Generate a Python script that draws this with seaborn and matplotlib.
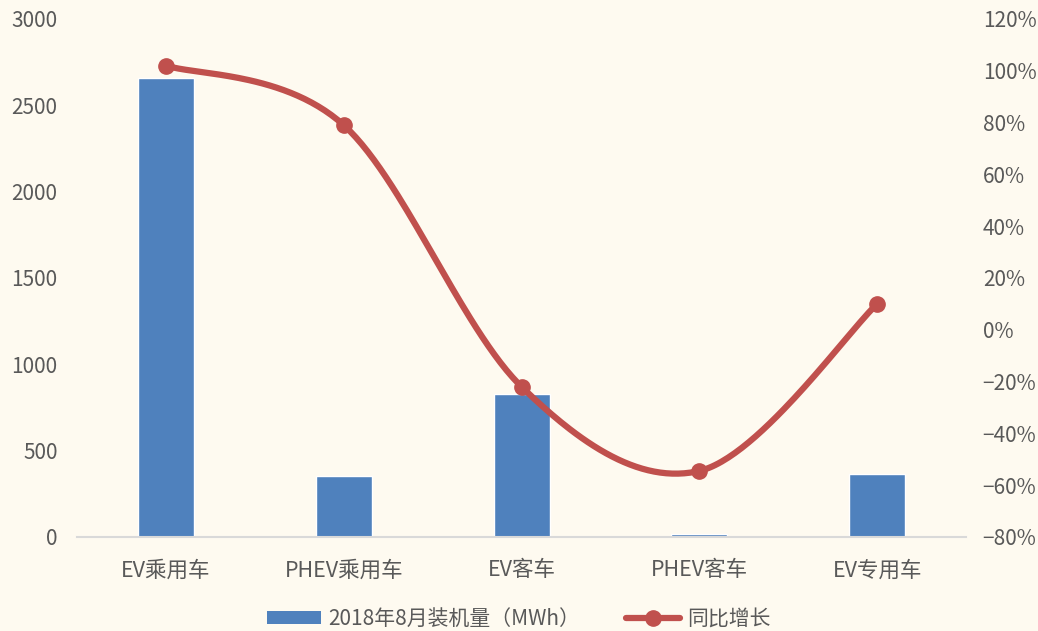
import numpy as np
import pandas as pd
import matplotlib
matplotlib.use("Agg")
import matplotlib.pyplot as plt
import seaborn as sns
from matplotlib.lines import Line2D
from matplotlib.patches import Patch
from matplotlib.ticker import FuncFormatter

categories = ["EV乘用车", "PHEV乘用车", "EV客车", "PHEV客车", "EV专用车"]
capacity_mwh = [2660, 355, 828, 15, 365]
yoy_growth = [102.0, 79.0, -22.0, -54.5, 10.0]

bar_label = "2018年8月装机量（MWh）"
line_label = "同比增长"

BG = "#FEFAF0"
BLUE = "#4F81BD"
RED = "#C0504D"
TEXT = "#595959"

sns.set_theme(style="white")
plt.rcParams["font.family"] = ["Noto Sans CJK SC", "DejaVu Sans"]
plt.rcParams["axes.unicode_minus"] = True

df = pd.DataFrame({"category": categories, "capacity": capacity_mwh, "yoy": yoy_growth})

fig = plt.figure(figsize=(10.38, 6.31), dpi=100, facecolor=BG)
ax = fig.add_axes([0.0742, 0.149, 0.8565, 0.821])
ax.set_facecolor(BG)

sns.barplot(data=df, x="category", y="capacity", color=BLUE, width=0.315,
            saturation=1, ax=ax)
ax.set_xlim(-0.5, len(categories) - 0.5)
ax.set_ylim(0, 3000)
ax.set_yticks(np.arange(0, 3001, 500))
ax.set_xlabel("")
ax.set_ylabel("")
ax.tick_params(axis="both", length=0, colors=TEXT, labelsize=15)
ax.tick_params(axis="x", pad=16)
ax.tick_params(axis="y", pad=14)
for s in ["top", "right", "left"]:
    ax.spines[s].set_visible(False)
ax.spines["bottom"].set_color("#D9D9D9")
ax.spines["bottom"].set_linewidth(1.5)
for lab in ax.get_xticklabels():
    lab.set_color(TEXT)
    lab.set_fontsize(15.5)

# Secondary axis for year-on-year growth, drawn as a smoothed curve
ax2 = ax.twinx()
ax2.set_ylim(-80, 120)
ax2.set_yticks(np.arange(-80, 121, 20))
ax2.yaxis.set_major_formatter(FuncFormatter(lambda v, p: f"{int(v)}%".replace("-", "\u2212")))
ax2.tick_params(axis="y", length=0, colors=TEXT, labelsize=15, pad=12)
for s in ax2.spines.values():
    s.set_visible(False)

x = np.arange(len(categories), dtype=float)
y = np.array(yoy_growth, dtype=float)

# Cardinal-spline smoothing through the points (Bezier segments)
px = np.concatenate([[x[0]], x, [x[-1]]])
py = np.concatenate([[y[0]], y, [y[-1]]])
sx, sy = [], []
t = np.linspace(0, 1, 60)
for i in range(len(x) - 1):
    p0 = np.array([px[i + 1], py[i + 1]])
    p3 = np.array([px[i + 2], py[i + 2]])
    c1 = p0 + (np.array([px[i + 2], py[i + 2]]) - np.array([px[i], py[i]])) / 6
    c2 = p3 - (np.array([px[i + 3], py[i + 3]]) - np.array([px[i + 1], py[i + 1]])) / 6
    bx = (1 - t) ** 3 * p0[0] + 3 * (1 - t) ** 2 * t * c1[0] + 3 * (1 - t) * t ** 2 * c2[0] + t ** 3 * p3[0]
    by = (1 - t) ** 3 * p0[1] + 3 * (1 - t) ** 2 * t * c1[1] + 3 * (1 - t) * t ** 2 * c2[1] + t ** 3 * p3[1]
    sx.extend(bx)
    sy.extend(by)
sns.lineplot(x=sx, y=sy, ax=ax2, color=RED, linewidth=4.5, sort=False, estimator=None)
ax2.plot(x, y, "o", color=RED, markersize=11, zorder=5)
ax2.set_ylabel("")

handles = [
    Patch(facecolor=BLUE, edgecolor="none", label=bar_label),
    Line2D([0], [0], color=RED, lw=4.5, marker="o", markersize=11, label=line_label),
]
fig.legend(handles=handles, loc="lower center", bbox_to_anchor=(0.5, -0.028), ncol=2,
           frameon=False, fontsize=15, handlelength=2.6, columnspacing=2.2,
           handletextpad=0.35, labelcolor=TEXT, handleheight=0.6)

fig.savefig("out.png", dpi=100, facecolor=BG)
